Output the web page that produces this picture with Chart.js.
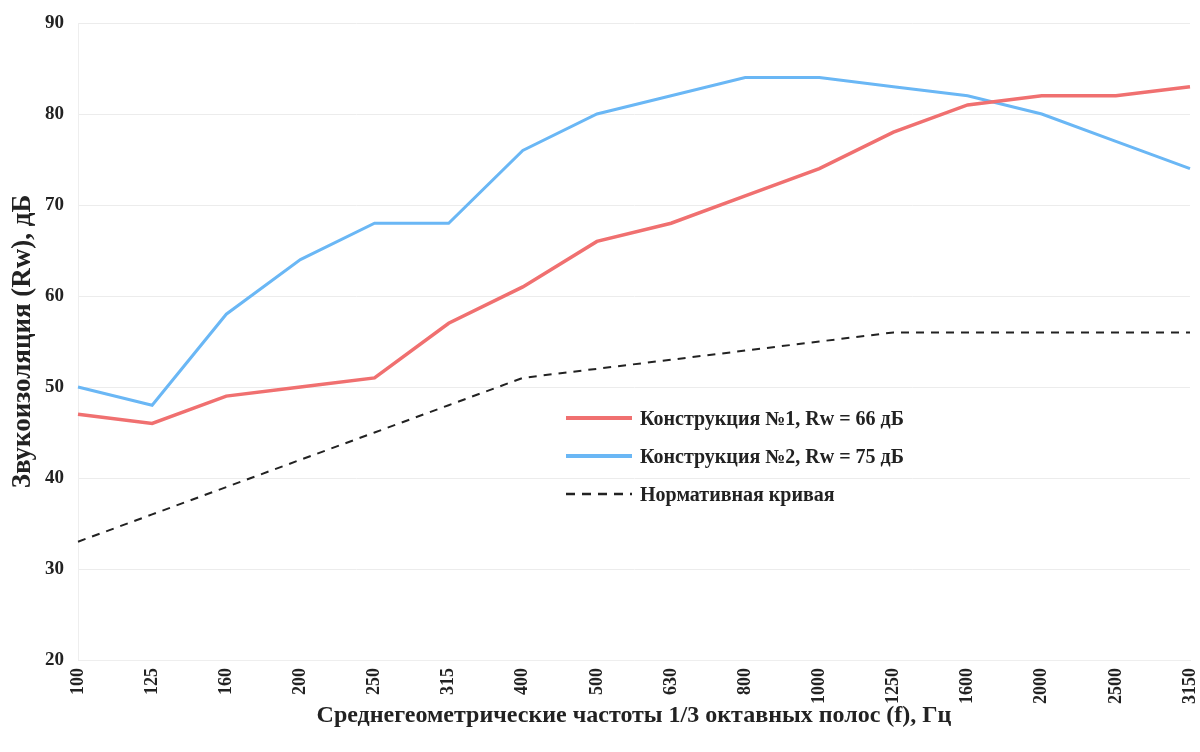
<!DOCTYPE html>
<html>
<head>
<meta charset="utf-8">
<script src="https://cdn.jsdelivr.net/npm/chart.js@4"></script>
<style>
  html, body { margin: 0; padding: 0; background: #fff; }
  #wrap { position: relative; width: 1200px; height: 752px; }
  #legend {
    position: absolute; left: 566px; top: 399px;
    font-family: "Liberation Serif", serif; font-weight: bold; font-size: 20px; color: #222;
  }
  #legend .item { display: flex; align-items: center; height: 38px; }
  #legend canvas { margin-right: 8px; }
</style>
</head>
<body>
<div id="wrap">
  <canvas id="chart" width="1200" height="752"></canvas>
  <div id="legend"></div>
</div>
<script>
/* ===== DATA ===== */

const frequencies = ["100", "125", "160", "200", "250", "315", "400", "500", "630", "800", "1000", "1250", "1600", "2000", "2500", "3150"];
const construction1 = [47, 46, 49, 50, 51, 57, 61, 66, 68, 71, 74, 78, 81, 82, 82, 83];
const construction2 = [50, 48, 58, 64, 68, 68, 76, 80, 82, 84, 84, 83, 82, 80, 77, 74];
const normCurve = [33, 36, 39, 42, 45, 48, 51, 52, 53, 54, 55, 56, 56, 56, 56, 56];
const seriesLabels = ["Конструкция №1, Rw = 66 дБ", "Конструкция №2, Rw = 75 дБ", "Нормативная кривая"];

const yTitle = "Звукоизоляция (Rw), дБ";
const xTitle = "Среднегеометрические частоты 1/3 октавных полос (f), Гц";

/* ===== STYLE ===== */

const serif = "'Liberation Serif', 'Times New Roman', serif";
const red = "rgb(240, 112, 112)";
const blue = "rgb(106, 183, 245)";
const black = "#222";

function lineSet(label, data, color, width, dash) {
  return {
    label, data,
    borderColor: color,
    backgroundColor: color,
    borderWidth: width,
    borderDash: dash || [],
    pointRadius: 0,
    tension: 0,
    fill: false
  };
}

/* ===== CHART ===== */

const chart = new Chart(document.getElementById("chart"), {
  type: "line",
  data: {
    labels: frequencies,
    datasets: [
      lineSet(seriesLabels[0], construction1, red, 3.5),
      lineSet(seriesLabels[1], construction2, blue, 3),
      lineSet(seriesLabels[2], normCurve, black, 2, [8, 7])
    ]
  },
  options: {
    responsive: false,
    animation: false,
    layout: { padding: { top: 23, right: 10, left: 0, bottom: 0 } },
    plugins: {
      legend: { display: false },
      tooltip: { enabled: false }
    },
    scales: {
      x: {
        offset: false,
        grid: { display: false, drawTicks: false },
        border: { color: "#eee" },
        ticks: {
          color: black,
          font: { family: serif, size: 18, weight: "bold" },
          minRotation: 90, maxRotation: 90,
          padding: 8
        },
        title: {
          display: true, text: xTitle, color: black,
          font: { family: serif, size: 24, weight: "bold" },
          padding: { top: 4, bottom: 22 }
        },
        afterFit: s => {
          s.height = 92;
          s.paddingLeft = 0;
          s.paddingRight = 0;
        }
      },
      y: {
        min: 20, max: 90,
        grid: { color: "#ececec", drawTicks: false },
        border: { color: "#eee" },
        ticks: {
          stepSize: 10,
          color: black,
          font: { family: serif, size: 19, weight: "bold" },
          padding: 14
        },
        title: {
          display: true, text: yTitle, color: black,
          font: { family: serif, size: 27, weight: "bold" },
          padding: { top: 7, bottom: 0 }
        },
        afterFit: s => {
          s.width = 78;
          s.paddingTop = 0;
          s.paddingBottom = 0;
        }
      }
    }
  }
});

/* ===== LEGEND ===== */

function buildLegend() {
  const box = document.getElementById("legend");
  chart.data.datasets.forEach(ds => {
    const item = document.createElement("div");
    item.className = "item";
    const swatch = document.createElement("canvas");
    swatch.width = 66; swatch.height = 10;
    const ctx = swatch.getContext("2d");
    ctx.strokeStyle = ds.borderColor;
    ctx.lineWidth = ds.borderDash.length ? 2.5 : 4;
    ctx.setLineDash(ds.borderDash.length ? [9, 7] : []);
    ctx.beginPath(); ctx.moveTo(0, 5); ctx.lineTo(66, 5); ctx.stroke();
    const text = document.createElement("span");
    text.textContent = ds.label;
    item.appendChild(swatch);
    item.appendChild(text);
    box.appendChild(item);
  });
}

buildLegend();
</script>
</body>
</html>
